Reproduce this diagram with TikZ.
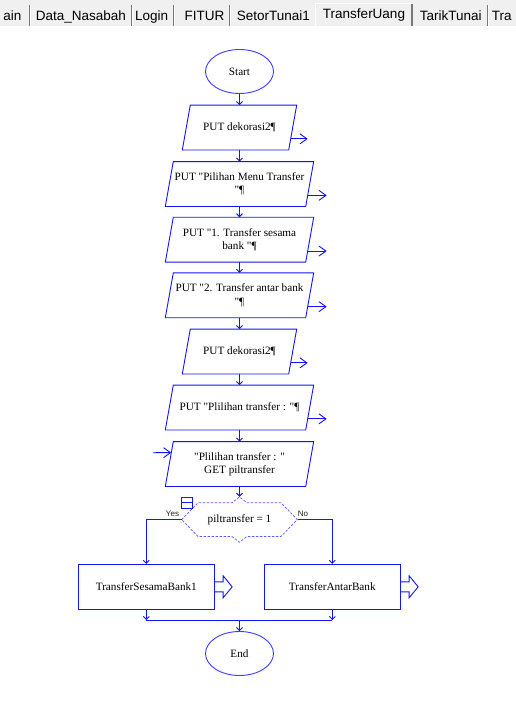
\documentclass[tikz,border=0pt]{standalone}
\usepackage{fontspec}
\setmainfont{Liberation Serif}[Ligatures=TeXOff]
\newfontfamily\tabfont{Liberation Sans}
\usetikzlibrary{arrows.meta,calc,shapes.geometric}
\definecolor{flowblue}{RGB}{20,20,250}
\definecolor{softblue}{RGB}{60,60,250}
\definecolor{dashblue}{RGB}{90,90,250}
\definecolor{tabgray}{RGB}{240,240,240}
\definecolor{tabedge}{RGB}{120,120,120}
\definecolor{labelgray}{RGB}{40,30,20}

\begin{document}
\begin{tikzpicture}[x=1pt,y=-1pt,
  every node/.style={font=\fontsize{11.2}{13.4}\selectfont, text=black},
  flowline/.style={draw=flowblue, line width=0.9pt},
  iobox/.style={rectangle, minimum width=#1, minimum height=44.5,
    inner sep=1pt, align=center},
  procbox/.style={rectangle, draw=flowblue, line width=0.9pt,
    minimum width=136, minimum height=45, inner sep=1pt},
  terminal/.style={ellipse, draw=softblue, line width=0.9pt,
    minimum width=68, minimum height=44, inner sep=0pt},
  tip/.style={flowline, -{Straight Barb[length=3pt,width=6pt]}},
  outarrow/.style={flowline, -{Straight Barb[length=7pt,width=10pt]}},
  tabtext/.style={font=\tabfont\fontsize{13.5}{16}\selectfont, inner sep=0pt},
  branchlabel/.style={font=\tabfont\fontsize{8}{9}\selectfont, text=labelgray, inner sep=0pt},
  decision/.style={rectangle, minimum width=115.6, minimum height=45.3, inner sep=0pt}
]
\useasboundingbox (0,0) rectangle (516,713);
\fill[white] (0,0) rectangle (516,713);

% ---- tab strip ----
\fill[tabgray] (0,0) rectangle (516,26);
\fill[tabgray] (315,2.5) rectangle (411.5,26);
\draw[white, line width=1pt] (315.5,26) -- (315.5,3) -- (411,3);
\draw[tabedge, line width=1.2pt] (412,3.5) -- (412,26);
\foreach \sx in {29.5,131.5,173.5,229.5,487.5} {
  \draw[tabedge, line width=1pt] (\sx,5) -- (\sx,26);
  \draw[white, line width=1pt] (\sx+1,5) -- (\sx+1,26);
}
\node[tabtext, anchor=base east] (tabmain) at (21.7,20.7) {ain};
\node[tabtext, anchor=base] (tabdata) at (80.8,20.7) {Data\_Nasabah};
\node[tabtext, anchor=base] (tablogin) at (151.7,20.7) {Login};
\node[tabtext, anchor=base] (tabfitur) at (204.5,20.7) {FITUR};
\node[tabtext, anchor=base] (tabsetor) at (273.3,20.7) {SetorTunai1};
\node[tabtext, anchor=base] (tabtransfer) at (364,18.3) {TransferUang};
\node[tabtext, anchor=base] (tabtarik) at (450.8,20.7) {TarikTunai};
\node[tabtext, anchor=base west] (tabtra) at (491.7,20.7) {Tra};

% ---- flowchart nodes ----
\node[terminal] (start) at (239.5,71.5) {Start};
\node[iobox=114] (b1) at (239.5,127.5) {PUT dekorasi2¶};
\node[iobox=148] (b2) at (239.5,184) {PUT "Pilihan Menu Transfer\\"¶};
\node[iobox=148] (b3) at (239.5,239.7) {PUT "1. Transfer sesama\\bank "¶};
\node[iobox=148] (b4) at (239.5,295.3) {PUT "2. Transfer antar bank\\"¶};
\node[iobox=114] (b5) at (239.5,351.5) {PUT dekorasi2¶};
\node[iobox=148] (b6) at (239.5,407.5) {PUT "Plilihan transfer : "¶};
\node[iobox=148] (b7) at (239.5,464) {"Plilihan transfer : "\\GET piltransfer};
\node[decision] (dec) at (239.5,519.6) {piltransfer = 1};
\node[procbox] (tl) at (146.3,586.8) {TransferSesamaBank1};
\node[procbox] (tr) at (332.3,586.8) {TransferAntarBank};
\node[terminal] (end) at (239.5,653.5) {End};

% parallelogram outlines of the input/output boxes
\foreach \b in {b1,b2,b3,b4,b5,b6,b7} {
  \draw[flowline, line join=miter] (\b.south west) -- ($(\b.north west)+(8,0)$)
    -- (\b.north east) -- ($(\b.south east)+(-8,0)$) -- cycle;
}

% decision outline (dashed hexagon with notches)
\begin{scope}[shift={(dec.center)}]
  \draw[dashblue, line width=0.7pt, dash pattern=on 2.5pt off 1.5pt]
    (-57.8,0) -- (-41.5,-16.9) -- (-7.5,-16.9) -- (0,-22.6) -- (7.5,-16.9)
    -- (41.5,-16.9) -- (57.8,0) -- (41.5,16.9) -- (7.5,16.9) -- (0,22.6)
    -- (-7.5,16.9) -- (-41.5,16.9) -- cycle;
\end{scope}
% collapse marker
\draw[flowblue, line width=0.8pt] (181.5,497) rectangle (192.5,508);
\draw[flowblue, line width=0.8pt] (181.5,502.5) -- (192.5,502.5);

% ---- main flow ----
\draw[tip] (start) -- (b1);
\draw[tip] (b1) -- (b2);
\draw[tip] (b2) -- (b3);
\draw[tip] (b3) -- (b4);
\draw[tip] (b4) -- (b5);
\draw[tip] (b5) -- (b6);
\draw[tip] (b6) -- (b7);
\draw[tip] (b7) -- (dec.north);

% output arrows
\foreach \b/\len in {b1/17,b2/19,b3/19,b4/19,b5/17,b6/19} {
  \draw[outarrow] ($(\b.south east)+(-6,-11.1)$) -- ++(\len,0);
}
% input arrow
\coordinate (inp) at (153,452.7);
\draw[outarrow] (inp) -- ($(b7.north west)+(6,11.1)$);

% branches
\draw[tip] (dec.west) -| (tl.north);
\draw[tip] (dec.east) -| (tr.north);
\node[branchlabel] (yes) at (172.5,513.5) {Yes};
\node[branchlabel] (no) at (303,513.5) {No};

% call markers
\foreach \p in {tl,tr} {
  \draw[flowline, line join=miter] ($(\p.east)+(0,-5)$) -- ++(8.4,0) -- ++(0,-6)
    -- ++(9,11) -- ++(-9,11) -- ++(0,-6) -- ++(-8.4,0);
}

% merge
\coordinate (merge) at (239.5,620);
\draw[tip] (tl.south) -- (tl.south |- merge);
\draw[tip] (tr.south) -- (tr.south |- merge);
\draw[flowline] (tl.south |- merge) -- (tr.south |- merge);
\draw[tip] (merge) -- (end);
\end{tikzpicture}
\end{document}
